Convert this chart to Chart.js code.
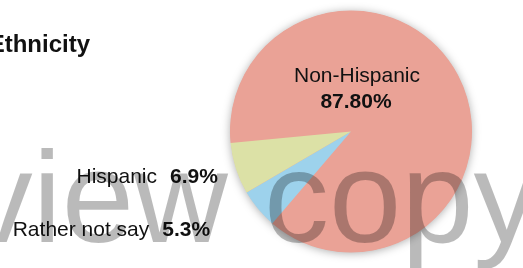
<!DOCTYPE html>
<html>
<head>
<meta charset="utf-8">
<script src="https://cdn.jsdelivr.net/npm/chart.js@4.4.1/dist/chart.umd.min.js"></script>
<style>
  html, body { margin: 0; padding: 0; background: #fff; }
  #wrap { width: 523px; height: 268px; position: relative; }
</style>
</head>
<body>
<div id="wrap"><canvas id="pie"></canvas></div>
<script>
//================================ DATA

const categories = ['Non-Hispanic', 'Rather not say', 'Hispanic'];
const shares = [87.8, 5.3, 6.9];
const shareLabels = ['87.80%', '5.3%', '6.9%'];
const sliceColors = ['#eaa296', '#9dd2ec', '#dce1a6'];
const chartTitle = 'Ethnicity';
const watermarkText = 'view copy';

//================================ PLUGINS

const FONT = '"Liberation Sans", Arial, Helvetica, sans-serif';

// soft shadow under the whole disc (drawn once, so slices don't shade each other)
const pieShadow = {
  id: 'pieShadow',
  beforeDatasetsDraw (chart) {
    const arc = chart.getDatasetMeta(0).data[0];
    if (!arc) return;
    const ctx = chart.ctx;
    ctx.save();
    ctx.shadowColor = 'rgba(0, 0, 0, 0.35)';
    ctx.shadowBlur = 10;
    ctx.shadowOffsetY = 1;
    ctx.fillStyle = sliceColors[0];
    ctx.beginPath();
    ctx.arc(arc.x, arc.y, arc.outerRadius - 0.5, 0, Math.PI * 2);
    ctx.fill();
    ctx.restore();
  }
};

// slice labels: big slice inside, small ones outside on the left
const sliceLabels = {
  id: 'sliceLabels',
  afterDatasetsDraw (chart) {
    const ctx = chart.ctx;
    const arcs = chart.getDatasetMeta(0).data;
    const nudge = { 1: [-48, 27], 2: [-18, 14] };
    ctx.save();
    ctx.fillStyle = '#111';
    for (let i = 0; i < arcs.length; i++) {
      const a = arcs[i];
      const r = a.outerRadius;
      if (i === 0) {
        ctx.textAlign = 'center';
        ctx.textBaseline = 'alphabetic';
        ctx.font = '21px ' + FONT;
        ctx.fillText(categories[i], a.x + 6, a.y - r * 0.41);
        ctx.font = 'bold 21px ' + FONT;
        ctx.fillText(shareLabels[i], a.x + 5, a.y - r * 0.195);
        continue;
      }
      const mid = (a.startAngle + a.endAngle) / 2;
      const rx = a.x + Math.cos(mid) * r + nudge[i][0];
      const by = a.y + Math.sin(mid) * r + nudge[i][1];
      ctx.textAlign = 'right';
      ctx.textBaseline = 'alphabetic';
      ctx.font = 'bold 21px ' + FONT;
      ctx.fillText(shareLabels[i], rx, by);
      const w = ctx.measureText(shareLabels[i]).width;
      ctx.font = '21px ' + FONT;
      ctx.fillText(categories[i], rx - w - 13, by);
    }
    ctx.restore();
  }
};

const titleAndMark = {
  id: 'titleAndMark',
  afterDraw (chart) {
    const ctx = chart.ctx;
    ctx.save();
    ctx.fillStyle = '#111';
    ctx.font = 'bold 24px ' + FONT;
    ctx.textAlign = 'right';
    ctx.textBaseline = 'alphabetic';
    ctx.fillText(chartTitle, 90, 52);

    ctx.font = '130px ' + FONT;
    ctx.textAlign = 'left';
    ctx.fillStyle = 'rgba(0, 0, 0, 0.27)';
    const lead = ctx.measureText('view ').width;
    ctx.fillText(watermarkText, 264 - lead, 242);
    ctx.restore();
  }
};

//================================ CHART

new Chart(document.getElementById('pie'), {
  type: 'pie',
  data: {
    labels: categories,
    datasets: [
      {
        data: shares,
        backgroundColor: sliceColors,
        borderWidth: 0,
        hoverOffset: 0,
        offset: 0,
      },
    ],
  },
  options: {
    responsive: true,
    maintainAspectRatio: false,
    animation: false,
    rotation: 264.5,
    layout: {
      padding: { left: 230, right: 51, top: 10, bottom: 15 },
    },
    plugins: {
      legend: { display: false },
      tooltip: { enabled: false },
    },
    events: [],
  },
  plugins: [pieShadow, sliceLabels, titleAndMark],
});
</script>
</body>
</html>
